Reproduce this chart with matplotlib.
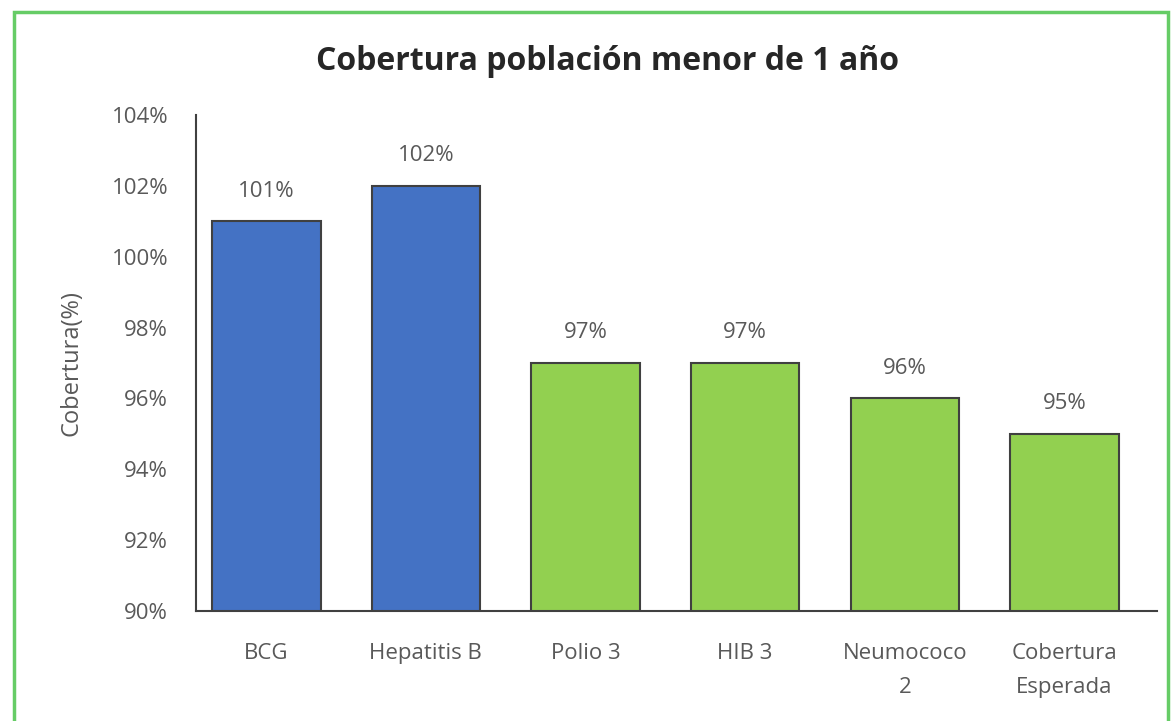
import matplotlib
matplotlib.use("Agg")
import matplotlib.pyplot as plt
from matplotlib.patches import Rectangle
from matplotlib.ticker import FuncFormatter

categories = ["BCG", "Hepatitis B", "Polio 3", "HIB 3", "Neumococo\n2", "Cobertura\nEsperada"]
coverage = [101, 102, 97, 97, 96, 95]
bar_colors = ["#4472C4", "#4472C4", "#92D050", "#92D050", "#92D050", "#92D050"]
yticks = [90, 92, 94, 96, 98, 100, 102, 104]

plt.rcParams['font.family'] = ['Open Sans', 'DejaVu Sans']

fig = plt.figure(figsize=(11.73, 7.21), dpi=100)
fig.patch.set_facecolor("white")

# green frame around chart
fig.patches.append(Rectangle((14/1173, -0.05), (1168-14)/1173, 1 - 12/721 + 0.05,
                             transform=fig.transFigure, fill=False,
                             edgecolor="#66CC66", linewidth=2.5))

ax = fig.add_axes([196/1173, 1 - 611/721, (1157-196)/1173, (611-115)/721])
x = range(len(categories))
bars = ax.bar(x, coverage, width=0.68, color=bar_colors, edgecolor="#404040", linewidth=1.5)

for xi, v in zip(x, coverage):
    ax.text(xi, v + 0.85, "%d%%" % v, ha="center", va="center", fontsize=16, color="#595959")

ax.set_ylim(90, 104)
ax.set_xlim(-0.44, 5.58)
ax.set_yticks(yticks)
ax.yaxis.set_major_formatter(FuncFormatter(lambda v, p: "%d%%" % v))
ax.set_xticks(list(x))
ax.set_xticklabels(categories, linespacing=1.8)
ax.tick_params(axis="both", length=0, labelsize=16, labelcolor="#595959")
ax.tick_params(axis="x", pad=23)
ax.tick_params(axis="y", pad=20)

for s in ["top", "right"]:
    ax.spines[s].set_visible(False)
ax.spines["left"].set_color("#404040")
ax.spines["bottom"].set_color("#404040")
ax.spines["left"].set_linewidth(1.5)
ax.spines["bottom"].set_linewidth(1.5)

ax.set_ylabel("Cobertura(%)", fontsize=17, color="#595959", labelpad=20)
fig.text(608/1173, 1 - 62/721, "Cobertura población menor de 1 año", ha="center", va="center",
         fontsize=23, fontweight="bold", color="#262626")

fig.savefig("out.png", dpi=100)
